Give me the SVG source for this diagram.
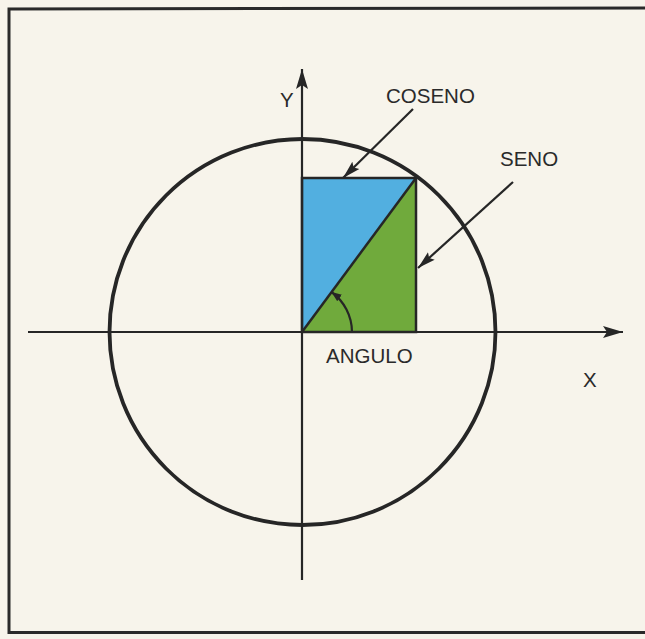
<svg xmlns="http://www.w3.org/2000/svg" width="645" height="639" viewBox="0 0 645 639">
<defs>
<style>
.ln{stroke:#262626;fill:none;stroke-width:2.2}
.lbl{font-family:"Liberation Sans",Arial,sans-serif;font-size:20.5px;fill:#2a2a2a}
</style>
<marker id="ah" markerUnits="userSpaceOnUse" markerWidth="22" markerHeight="14" refX="20" refY="7" orient="auto">
<path d="M0,1 L20,7 L0,13 L4,7 Z" fill="#262626"/>
</marker>
<marker id="ahc" markerUnits="userSpaceOnUse" markerWidth="20" markerHeight="12" refX="18" refY="6" orient="auto">
<path d="M0,1 L18,6 L0,11 L3,6 Z" fill="#262626"/>
</marker>
<marker id="ahs" markerUnits="userSpaceOnUse" markerWidth="12" markerHeight="10" refX="10" refY="5" orient="auto">
<path d="M0,1 L10,5 L0,9 Z" fill="#262626"/>
</marker>
</defs>
<rect x="0" y="0" width="645" height="639" fill="#f7f4eb"/>
<path d="M9,634 L9,9 L645,8" fill="none" stroke="#2a2a2a" stroke-width="3"/>
<line x1="9" y1="632.5" x2="645" y2="632.5" stroke="#2a2a2a" stroke-width="3"/>

<g id="square">
<polygon points="302,178 416,178 302,332" fill="#52afe0"/>
<polygon points="416,178 416,332 302,332" fill="#70aa3c"/>
<rect x="302" y="178" width="114" height="154" fill="none" stroke="#262626" stroke-width="2.5"/>
<line x1="302" y1="332" x2="416" y2="178" stroke="#262626" stroke-width="2.5"/>
</g>

<g id="circle">
<circle cx="302.5" cy="332" r="193" fill="none" stroke="#262626" stroke-width="3.8"/>
</g>

<g id="axes">
<line class="ln" x1="28" y1="332" x2="623" y2="332" marker-end="url(#ah)"/>
<line class="ln" x1="302" y1="580" x2="302" y2="69" marker-end="url(#ah)"/>
</g>

<g id="connectors">
<line class="ln" x1="413" y1="109" x2="343" y2="178" marker-end="url(#ahc)" stroke-width="1.7"/>
<line class="ln" x1="513" y1="182" x2="418" y2="268" marker-end="url(#ahc)" stroke-width="1.7"/>
<path class="ln" d="M352,332 A50,50 0 0 0 331.5,292" marker-end="url(#ahs)" stroke-width="1.8"/>
</g>

<g id="labels">
<text class="lbl" x="280" y="107">Y</text>
<text class="lbl" x="386" y="103">COSENO</text>
<text class="lbl" x="500" y="166">SENO</text>
<text class="lbl" x="326" y="363">ANGULO</text>
<text class="lbl" x="583" y="387">X</text>
</g>
</svg>
